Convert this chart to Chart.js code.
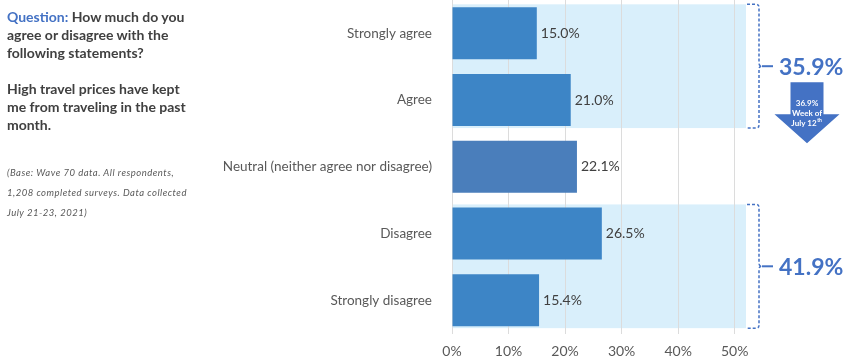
<!DOCTYPE html>
<html>
<head>
<meta charset="utf-8">
<script src="https://cdn.jsdelivr.net/npm/chart.js@4"></script>
<style>
  body { margin: 0; background: #fff; }
  #wrap { position: relative; width: 850px; height: 363px; }
  #chart { position: absolute; left: 0; top: 0; }
  .question {
    position: absolute; left: 7px; top: 8px;
    font: bold 14px Lato, sans-serif; line-height: 18px;
    color: #404040; white-space: nowrap;
  }
  .question .lead { color: #4472c4; }
  .base {
    position: absolute; left: 7px; top: 163px;
    font: italic 9.5px Lato, sans-serif; line-height: 20px; letter-spacing: 0.5px;
    color: #595959; white-space: nowrap;
  }
</style>
</head>
<body>
<div id="wrap">
  <canvas id="chart" width="850" height="363"></canvas>
  <div class="question">
    <span class="lead">Question:</span> How much do you<br>
    agree or disagree with the<br>
    following statements?<br>
    <br>
    High travel prices have kept<br>
    me from traveling in the past<br>
    month.
  </div>
  <div class="base">
    (Base: Wave 70 data. All respondents,<br>
    1,208 completed surveys. Data collected<br>
    July 21-23, 2021)
  </div>
</div>
<script>
const categories = ['Strongly agree', 'Agree', 'Neutral (neither agree nor disagree)', 'Disagree', 'Strongly disagree'];
const values = [15.0, 21.0, 22.1, 26.5, 15.4];
const xTicks = [0, 10, 20, 30, 40, 50];

// grouped totals shown on the right
const groupLabels = ['35.9%', '41.9%'];
const groupFrom = [0, 3];
const groupTo = [1, 4];

// earlier wave, shown in the arrow
const previousValue = '36.9%';
const previousWeek = ['Week of', 'July 12'];

const BLUE = '#4472c4';
const barColors = ['#3d85c6', '#3d85c6', '#4a7ebb', '#3d85c6', '#3d85c6'];

function catHalf(y) {
  const step = y.getPixelForValue(1) - y.getPixelForValue(0);
  return step * 0.78 / 2;
}

const bandsPlugin = {
  id: 'bands',
  beforeDraw(chart) {
    const { ctx, chartArea, scales: { y } } = chart;
    const half = catHalf(y);
    ctx.save();
    ctx.fillStyle = '#d9effb';
    groupFrom.forEach((from, i) => {
      const top = y.getPixelForValue(from) - half - 3;
      const bottom = y.getPixelForValue(groupTo[i]) + half + 2;
      ctx.fillRect(chartArea.left, top, chartArea.right - chartArea.left, bottom - top);
    });
    ctx.restore();
  }
};

const labelsPlugin = {
  id: 'barLabels',
  afterDatasetsDraw(chart) {
    const { ctx } = chart;
    const meta = chart.getDatasetMeta(0);
    ctx.save();
    ctx.font = '14px Lato, sans-serif';
    ctx.fillStyle = '#404040';
    ctx.textBaseline = 'middle';
    meta.data.forEach((bar, i) => {
      ctx.fillText(values[i].toFixed(1) + '%', bar.x + 4, bar.y);
    });
    ctx.restore();
  }
};

const bracketPlugin = {
  id: 'brackets',
  afterDraw(chart) {
    const { ctx, chartArea, scales: { y } } = chart;
    const half = catHalf(y);
    const bx = chartArea.right + 13;
    ctx.save();
    groupFrom.forEach((from, i) => {
      const top = y.getPixelForValue(from) - half - 3;
      const bottom = y.getPixelForValue(groupTo[i]) + half + 2;
      const mid = (top + bottom) / 2;
      ctx.strokeStyle = BLUE;
      ctx.lineWidth = 1.5;
      ctx.setLineDash([3, 2]);
      ctx.beginPath();
      ctx.moveTo(chartArea.right + 1, top);
      ctx.lineTo(bx - 3, top);
      ctx.quadraticCurveTo(bx, top, bx, top + 3);
      ctx.lineTo(bx, mid - 3);
      ctx.quadraticCurveTo(bx, mid, bx + 3, mid);
      ctx.quadraticCurveTo(bx, mid, bx, mid + 3);
      ctx.lineTo(bx, bottom - 3);
      ctx.quadraticCurveTo(bx, bottom, bx - 3, bottom);
      ctx.lineTo(chartArea.right + 1, bottom);
      ctx.stroke();
      ctx.setLineDash([]);
      ctx.lineWidth = 2;
      ctx.beginPath();
      ctx.moveTo(bx + 3, mid);
      ctx.lineTo(bx + 14, mid);
      ctx.stroke();

      ctx.fillStyle = BLUE;
      ctx.font = 'bold 23px Lato, sans-serif';
      ctx.textBaseline = 'middle';
      ctx.fillText(groupLabels[i], bx + 20, mid + 1);

      if (i === 0) {
        // arrow with the earlier wave value
        const cx = bx + 48;
        const rTop = mid + 16;
        const rBot = rTop + 32;
        const hBot = rBot + 29;
        ctx.beginPath();
        ctx.moveTo(cx - 16.5, rTop);
        ctx.lineTo(cx + 16.5, rTop);
        ctx.lineTo(cx + 16.5, rBot);
        ctx.lineTo(cx + 32.5, rBot);
        ctx.lineTo(cx, hBot);
        ctx.lineTo(cx - 32.5, rBot);
        ctx.lineTo(cx - 16.5, rBot);
        ctx.closePath();
        ctx.fill();
        ctx.fillStyle = '#fff';
        ctx.font = 'bold 8px Lato, sans-serif';
        ctx.textAlign = 'center';
        ctx.fillText(previousValue, cx, rTop + 21);
        ctx.fillText(previousWeek[0], cx, rTop + 31);
        const w = ctx.measureText(previousWeek[1]).width;
        ctx.fillText(previousWeek[1], cx - 3, rTop + 41);
        ctx.font = 'bold 5px Lato, sans-serif';
        ctx.textAlign = 'left';
        ctx.fillText('th', cx - 3 + w / 2 + 0.5, rTop + 38);
      }
    });
    ctx.restore();
  }
};

new Chart(document.getElementById('chart'), {
  type: 'bar',
  data: {
    labels: categories,
    datasets: [{
      data: values,
      backgroundColor: barColors,
      categoryPercentage: 1,
      barPercentage: 0.78,
    }],
  },
  options: {
    indexAxis: 'y',
    responsive: false,
    animation: false,
    devicePixelRatio: 1,
    layout: { padding: { left: 0, right: 104, top: 0, bottom: 0 } },
    plugins: { legend: { display: false }, tooltip: { enabled: false } },
    scales: {
      x: {
        min: 0,
        max: 52,
        afterBuildTicks: (scale) => { scale.ticks = xTicks.map(v => ({ value: v })); },
        afterFit: (scale) => { scale.height = 29.5; },
        ticks: {
          callback: (v) => v + '%',
          font: { family: 'Lato', size: 14 },
          color: '#595959',
          padding: 10,
        },
        grid: { color: '#dcdcdc', drawTicks: false },
        border: { display: false },
      },
      y: {
        afterFit: (scale) => {
          scale.width = 452;
          scale.paddingTop = 0;
          scale.paddingBottom = 0;
        },
        ticks: {
          font: { family: 'Lato', size: 13.5 },
          color: '#595959',
          padding: 12,
        },
        grid: { display: false },
        border: { display: false },
      },
    },
  },
  plugins: [bandsPlugin, labelsPlugin, bracketPlugin],
});
</script>
</body>
</html>
